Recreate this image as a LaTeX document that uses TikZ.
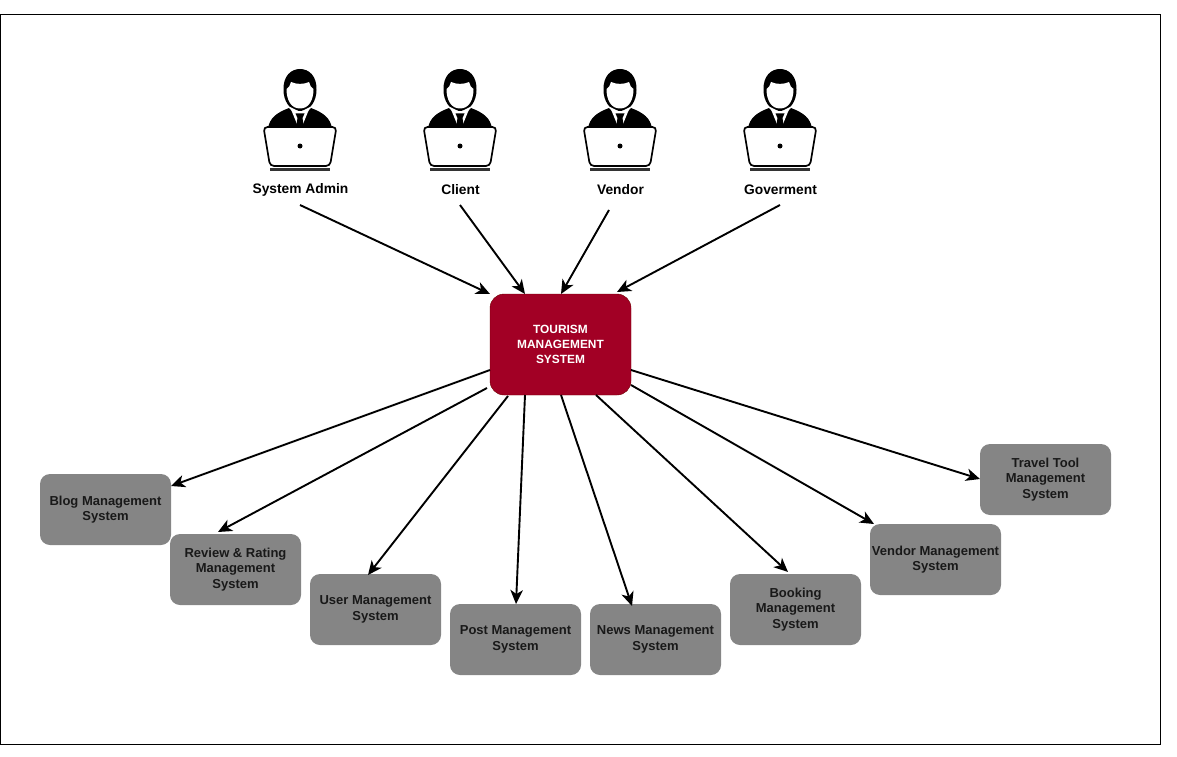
\documentclass[tikz,border=0pt]{standalone}
\usepackage{fontspec}
\setmainfont{Liberation Sans}
\usetikzlibrary{arrows.meta}

\begin{document}
\begin{tikzpicture}[x=1pt, y=-1pt,
		box/.style={rounded corners=10pt, fill=color2, minimum width=131pt, minimum height=71pt, inner sep=0pt, align=center, text=color5, font=\fontsize{13}{15.7}\selectfont\bfseries},
		mainbox/.style={rounded corners=14pt, draw=color4, fill=color1, minimum width=141pt, minimum height=101pt, inner sep=0pt, align=center, text=white, font=\fontsize{11.9}{15}\selectfont\bfseries},
		actor/.style={inner sep=0pt, minimum height=16pt, text=black, font=\fontsize{13.8}{15}\selectfont\bfseries},
		edge/.style={-{Stealth[length=14pt, width=12.5pt, inset=4pt]}, line width=1.9pt, black},
		person/.pic={
			%% hair and face
			\fill[black] (-16.5,-30) .. controls (-17,-44) and (-9,-51) .. (0,-51) .. controls (9,-51) and (17,-44) .. (16.5,-30) .. controls (16.5,-20) and (11,-9) .. (0,-9) .. controls (-11,-9) and (-16.5,-20) .. (-16.5,-30) -- cycle;
			\fill[white] (-13.5,-31) .. controls (-11,-32) and (-10,-35) .. (-9,-38) .. controls (-4,-35.5) and (4,-35.5) .. (9,-38) .. controls (10,-35) and (11,-32) .. (13.5,-31) .. controls (13.5,-20) and (9,-11.5) .. (0,-11.5) .. controls (-9,-11.5) and (-13.5,-20) .. (-13.5,-31) -- cycle;
			%% shoulders
			\fill[black] (-32,8) .. controls (-30,-2) and (-24,-7) .. (-11,-12) -- (0,0) -- (11,-12) .. controls (24,-7) and (30,-2) .. (32,8) -- cycle;
			\fill[white] (-10,-13) -- (0,-8) -- (10,-13) -- (3,4) -- (-3,4) -- cycle;
			\fill[black] (-4.5,-6.5) -- (4.5,-6.5) -- (2.5,-2) -- (4,8) -- (-4,8) -- (-2.5,-2) -- cycle;
			%% laptop
			\draw[line width=1.7pt, fill=white, rounded corners=4pt] (-36.5,7) -- (36.5,7) -- (30,46) -- (-30,46) -- cycle;
			\fill[black] (0,26) circle (2.5pt);
			\fill[color3] (-30,47.5) rectangle (30,50.5);
		}]
	\definecolor{color1}{HTML}{A20025}
	\definecolor{color2}{HTML}{858585}
	\definecolor{color3}{gray}{0.2}
	\definecolor{color4}{HTML}{6F0000}
	\definecolor{color5}{gray}{0.1}
	\useasboundingbox (0,0) rectangle (1177,757);
	\node[draw=black, line width=0.8pt, minimum width=1160.5pt, minimum height=730pt, inner sep=0pt] (frame) at (580.25,379) {};
	%% Actors ------
	\pic at (300,120) {person};
	\pic at (460,120) {person};
	\pic at (620,120) {person};
	\pic at (780,120) {person};
	\node[actor] (admin) at (300.5,189.5) {System Admin};
	\node[actor] (client) at (460.5,189.5) {Client};
	\node[actor] (vendor) at (620.5,189.5) {Vendor};
	\node[actor] (goverment) at (780.5,189.5) {Goverment};
	%% Boxes ---------
	\node[mainbox] (tourism) at (560.5,344.5) {TOURISM\\MANAGEMENT\\SYSTEM};
	\node[box] (blog) at (105.5,509.5) {Blog Management\\System};
	\node[box] (review) at (235.5,569.5) {Review \& Rating\\Management\\System};
	\node[box] (user) at (375.5,609.5) {User Management\\System};
	\node[box] (post) at (515.5,639.5) {Post Management\\System};
	\node[box] (news) at (655.5,639.5) {News Management\\System};
	\node[box] (booking) at (795.5,609.5) {Booking\\Management\\System};
	\node[box] (vendorsys) at (935.5,559.5) {Vendor Management\\System};
	\node[box] (travel) at (1045.5,479.5) {Travel Tool\\Management\\System};
	%% Edges ---------
	\coordinate (inA) at (490,294);
	\coordinate (inB) at (525,294);
	\coordinate (inC) at (561,294);
	\coordinate (inD) at (617,292);
	\coordinate (adminOut) at (300,205);
	\coordinate (clientOut) at (460,205);
	\coordinate (vendorOut) at (609,210);
	\coordinate (govermentOut) at (780,205);
	\draw[edge] (adminOut) -- (inA);
	\draw[edge] (clientOut) -- (inB);
	\draw[edge] (vendorOut) -- (inC);
	\draw[edge] (govermentOut) -- (inD);
	\coordinate (outA) at (490,370);
	\coordinate (outB) at (487,388);
	\coordinate (outC) at (508,396);
	\coordinate (outD) at (525,395);
	\coordinate (outE) at (561,395);
	\coordinate (outF) at (596,395);
	\coordinate (outG) at (631,385);
	\coordinate (outH) at (631,370);
	\coordinate (blogIn) at (171,486);
	\coordinate (reviewIn) at (218,532);
	\coordinate (userIn) at (368,575);
	\coordinate (postIn) at (516,604);
	\coordinate (newsIn) at (632,606);
	\coordinate (bookingIn) at (788,572);
	\coordinate (vendorIn) at (874,524);
	\coordinate (travelIn) at (980,479);
	\draw[edge] (outA) -- (blogIn);
	\draw[edge] (outB) -- (reviewIn);
	\draw[edge] (outC) -- (userIn);
	\draw[edge] (outD) -- (postIn);
	\draw[edge] (outE) -- (newsIn);
	\draw[edge] (outF) -- (bookingIn);
	\draw[edge] (outG) -- (vendorIn);
	\draw[edge] (outH) -- (travelIn);
\end{tikzpicture}
\end{document}
